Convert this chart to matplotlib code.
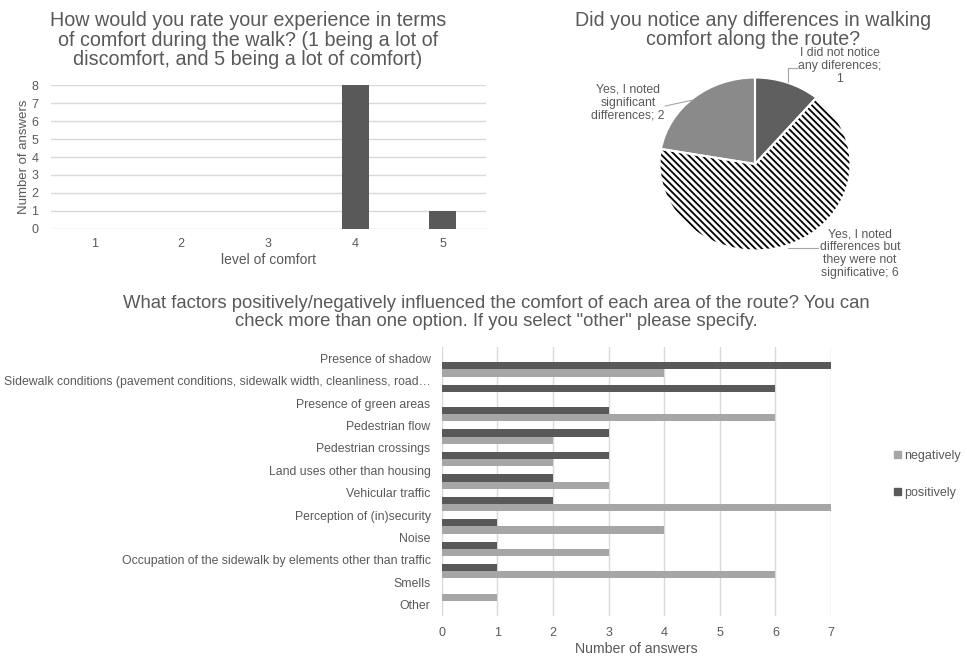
import numpy as np
import matplotlib
matplotlib.use("Agg")
import matplotlib.pyplot as plt
from matplotlib.patches import Patch

plt.rcParams['font.family'] = ['Liberation Sans', 'DejaVu Sans']
plt.rcParams['hatch.linewidth'] = 1.3

TXT = '#595959'
GRID = '#d9d9d9'
DARK = '#595959'
LIGHT = '#a6a6a6'

# Q1: comfort rating
comfort_levels = [1, 2, 3, 4, 5]
comfort_counts = [0, 0, 0, 8, 1]

# Q2: differences along the route
diff_labels = ['I did not notice\nany diferences;\n1',
               'Yes, I noted\ndifferences but\nthey were not\nsignificative; 6',
               'Yes, I noted\nsignificant\ndifferences; 2']
diff_counts = [1, 6, 2]
diff_colors = ['#5f5f5f', 'white', '#8a8a8a']

# Q3: factors influencing comfort
factors = ['Presence of shadow',
           'Sidewalk conditions (pavement conditions, sidewalk width, cleanliness, road\u2026',
           'Presence of green areas', 'Pedestrian flow', 'Pedestrian crossings',
           'Land uses other than housing', 'Vehicular traffic',
           'Perception of (in)security', 'Noise',
           'Occupation of the sidewalk by elements other than traffic',
           'Smells', 'Other']
positively = [7, 6, 3, 3, 3, 2, 2, 1, 1, 1, 0]
negatively = [4, 0, 6, 2, 2, 3, 7, 4, 3, 6, 1]

W, H = 967, 657
fig = plt.figure(figsize=(W / 100, H / 100), dpi=100)


def box(x0, y0, x1, y1):
    # pixel box (top-left origin) -> figure rect
    return [x0 / W, 1 - y1 / H, (x1 - x0) / W, (y1 - y0) / H]


def style(ax):
    for s in ax.spines.values():
        s.set_visible(False)
    ax.tick_params(length=0, colors=TXT, labelcolor=TXT)
    ax.set_axisbelow(True)


# ---- comfort rating bars ----
ax1 = fig.add_axes(box(50.7, 85.3, 486, 228.7))
ax1.bar(comfort_levels, comfort_counts, width=0.31, color=DARK, zorder=3)
ax1.set_xlim(0.5, 5.5)
ax1.set_ylim(0, 8)
ax1.set_yticks(range(0, 9))
ax1.set_xticks(comfort_levels)
ax1.grid(axis='y', color=GRID, lw=1)
style(ax1)
ax1.tick_params(axis='y', labelsize=9, pad=9)
ax1.tick_params(axis='x', labelsize=9, pad=7)
ax1.set_ylabel('Number of answers', fontsize=9.5, color=TXT)
ax1.set_xlabel('level of comfort', fontsize=10, color=TXT)
ax1.yaxis.set_label_coords(-0.048, 0.5)
ax1.xaxis.set_label_coords(0.5, -0.17)
fig.text(248 / W, 1 - 40 / H,
         'How would you rate your experience in terms\n'
         'of comfort during the walk? (1 being a lot of\n'
         'discomfort, and 5 being a lot of comfort)',
         ha='center', va='center', fontsize=14.2, color=TXT, linespacing=1.05)

# ---- differences pie ----
ax2 = fig.add_axes(box(659.5, 77.5, 850.5, 250.5))
wedges, _ = ax2.pie(diff_counts, startangle=90, counterclock=False,
                    colors=diff_colors,
                    wedgeprops=dict(edgecolor='none', linewidth=0))
wedges[1].set_edgecolor('black')
wedges[1].set_linewidth(0)
wedges[1].set_hatch('\\\\\\\\\\')
ax2.pie(diff_counts, startangle=90, counterclock=False,
        colors=['none'] * 3,
        wedgeprops=dict(edgecolor='white', linewidth=1.5))
ax2.set_aspect('auto')
ax2.set_xlim(-1, 1)
ax2.set_ylim(-1, 1)

lead = dict(color='#a6a6a6', lw=0.8)
ax2.plot([0.44, 0.346, 0.346], [1.11, 1.11, 0.948], **lead, clip_on=False)
ax2.plot([-0.94, -0.65], [0.67, 0.74], **lead, clip_on=False)
ax2.plot([0.346, 0.66], [-0.97, -0.97], **lead, clip_on=False)
lbl = dict(ha='center', va='center', fontsize=8.8, color=TXT, linespacing=1.1)
ax2.text(0.89, 1.13, diff_labels[0], **lbl)
ax2.text(1.10, -1.035, diff_labels[1], **lbl)
ax2.text(-1.33, 0.71, diff_labels[2], **lbl)
fig.text(753 / W, 1 - 30 / H,
         'Did you notice any differences in walking\ncomfort along the route?',
         ha='center', va='center', fontsize=14.1, color=TXT, linespacing=1.0)

# ---- factors horizontal bars ----
ax3 = fig.add_axes(box(441.7, 347, 831, 616))
h = 0.32
ypos = np.arange(len(positively)) + 0.5
ax3.barh(ypos - h / 2, positively, height=h, color=DARK, zorder=3, label='positively')
ax3.barh(ypos + h / 2, negatively, height=h, color=LIGHT, zorder=3, label='negatively')
ax3.set_ylim(len(factors) - 0.5, -0.5)
ax3.set_xlim(0, 7)
ax3.set_yticks(range(len(factors)))
ax3.set_yticklabels(factors)
ax3.set_xticks(range(0, 8))
ax3.grid(axis='x', color=GRID, lw=1)
style(ax3)
ax3.tick_params(axis='y', labelsize=8.8, pad=8)
ax3.tick_params(axis='x', labelsize=9, pad=8)
ax3.set_xlabel('Number of answers', fontsize=10.2, color=TXT)
ax3.xaxis.set_label_coords(0.5, -0.095)

handles = [Patch(color=LIGHT), Patch(color=DARK)]
fig.legend(handles, ['negatively', 'positively'], loc='center left',
           bbox_to_anchor=(883 / W, 1 - 474.5 / H), frameon=False,
           fontsize=9, labelcolor=TXT, handlelength=0.5, handleheight=0.5,
           handletextpad=0.3, labelspacing=2.05)
fig.text(496 / W, 1 - 312.5 / H,
         'What factors positively/negatively influenced the comfort of each area of the route? You can\n'
         'check more than one option. If you select "other" please specify.',
         ha='center', va='center', fontsize=13.3, color=TXT, linespacing=1.13)

fig.savefig('out.png', dpi=100)
